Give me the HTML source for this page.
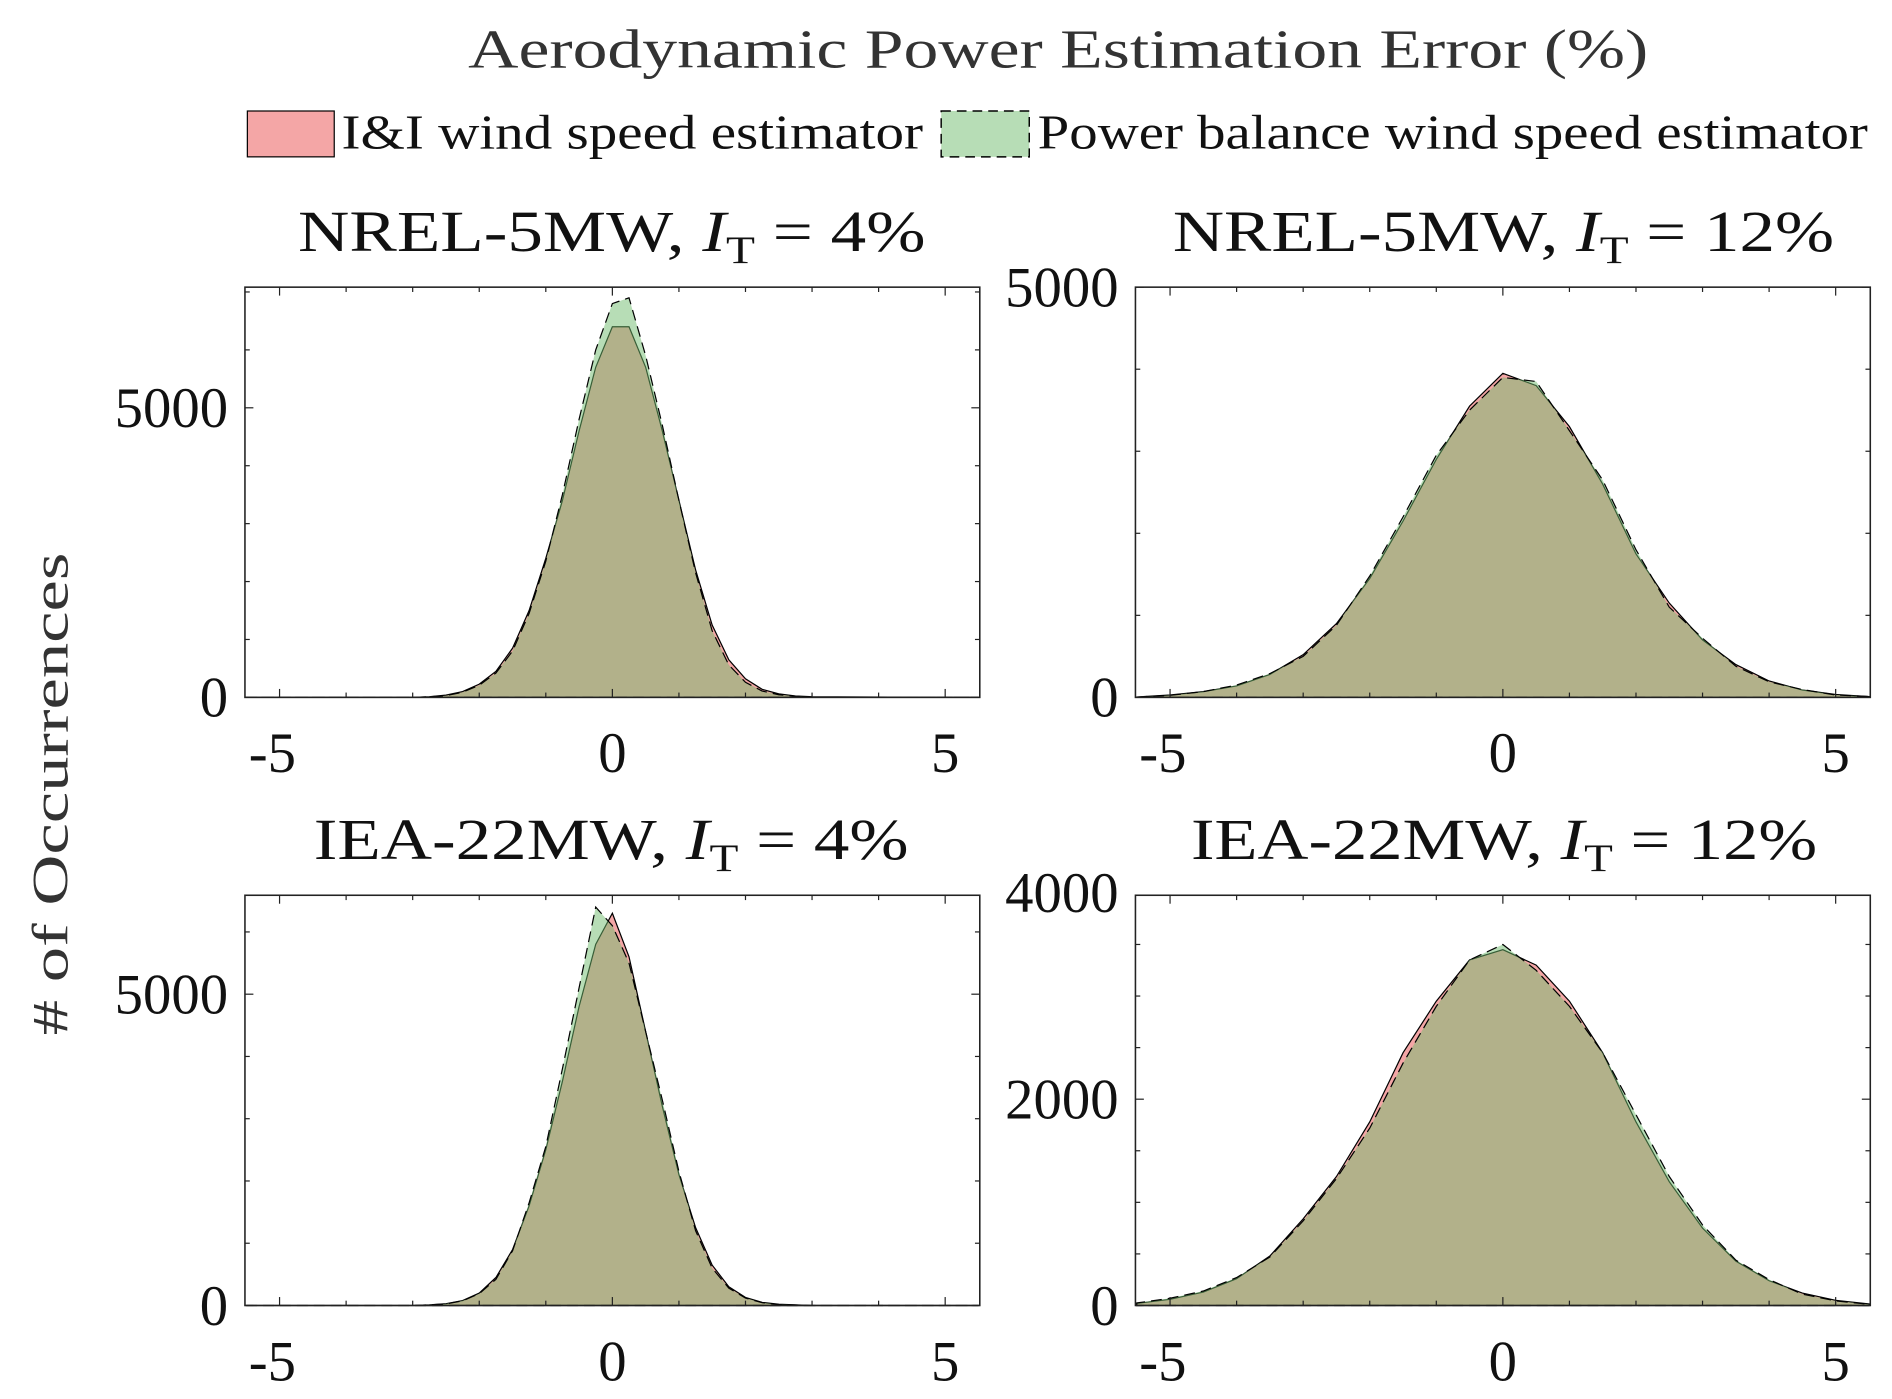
<!DOCTYPE html>
<html><head><meta charset="utf-8"><style>
html,body{margin:0;padding:0;background:#fff}
svg{display:block}
text{font-family:"Liberation Serif",serif}
</style></head><body>
<svg id="chart" width="1892" height="1399" viewBox="0 0 1568 1159.5" preserveAspectRatio="none">
<text x="388" y="56" font-size="46" fill="#333" textLength="978" lengthAdjust="spacingAndGlyphs">Aerodynamic Power Estimation Error (%)</text>
<g>
<rect x="205" y="92" width="72" height="38" fill="#f4a6a6" stroke="#000" stroke-width="1"/>
<text x="283" y="123" font-size="40" fill="#111" textLength="482" lengthAdjust="spacingAndGlyphs">I&amp;I wind speed estimator</text>
<rect x="780" y="92" width="73" height="38" fill="#b7ddb6" stroke="#000" stroke-width="1.2" stroke-dasharray="8,5"/>
<text x="860" y="123" font-size="40" fill="#111" textLength="688" lengthAdjust="spacingAndGlyphs">Power balance wind speed estimator</text>
</g>
<text transform="translate(56,658) rotate(-90)" font-size="42" fill="#333" text-anchor="middle" textLength="400" lengthAdjust="spacingAndGlyphs"># of Occurrences</text>
<g id="panels"></g>
</svg>
<script>
const binsNarrow=[-5.5,-3,-2.75,-2.5,-2.25,-2,-1.75,-1.5,-1.25,-1,-0.75,-0.5,-0.25,0,0.25,0.5,0.75,1,1.25,1.5,1.75,2,2.25,2.5,2.75,3,5.5];
const binsWide=[-5.5,-5,-4.5,-4,-3.5,-3,-2.5,-2,-1.5,-1,-0.5,0,0.5,1,1.5,2,2.5,3,3.5,4,4.5,5,5.5];
const tlRed=[0,0,10,40,100,230,450,850,1500,2400,3400,4600,5700,6400,6400,5700,4600,3400,2200,1250,650,320,140,60,25,10,0];
const tlGreen=[0,0,10,30,90,210,420,800,1450,2350,3500,4800,6000,6800,6900,5900,4700,3400,2150,1150,560,260,110,45,20,5,0];
const trRed=[5,30,70,140,280,520,900,1450,2150,2900,3550,3950,3800,3300,2600,1750,1150,700,400,200,90,35,10];
const trGreen=[5,25,70,150,290,500,880,1480,2200,2950,3500,3900,3850,3250,2650,1800,1100,720,380,190,95,30,10];
const blRed=[0,0,10,30,80,200,450,900,1600,2500,3600,4800,5800,6300,5600,4400,3200,2100,1250,650,300,130,50,20,10,0,0];
const blGreen=[0,0,10,25,75,190,420,880,1650,2550,3800,5100,6400,6100,5500,4400,3300,2150,1200,600,280,120,45,15,8,0,0];
const brRed=[20,60,130,260,480,840,1250,1780,2450,2950,3350,3450,3300,2950,2450,1780,1200,750,430,240,120,50,15];
const brGreen=[25,70,140,270,470,820,1230,1720,2350,2900,3350,3500,3250,2900,2450,1850,1250,780,440,250,110,45,12];
const yTicksTL=[0,5000], yTicksTR=[0,5000], yTicksBL=[0,5000], yTicksBR=[0,2000,4000];
const xTicks=[-5,0,5];
const titles=["NREL-5MW","NREL-5MW","IEA-22MW","IEA-22MW"];
const itVals=["4%","12%","4%","12%"];
const NS="http://www.w3.org/2000/svg";
const root=document.getElementById('panels');
function mk(tag,attrs,parent){const e=document.createElementNS(NS,tag);for(const k in attrs)e.setAttribute(k,attrs[k]);(parent||root).appendChild(e);return e;}
const panels=[
 {x0:203,x1:812,y0:238,y1:578,ymax:7083,bins:binsNarrow,red:tlRed,green:tlGreen,yt:yTicksTL,minor:1000,name:'nrel-4',tx:247,tw:520},
 {x0:941,x1:1550,y0:238,y1:578,ymax:5000,bins:binsWide,red:trRed,green:trGreen,yt:yTicksTR,minor:1000,name:'nrel-12',tx:972,tw:548},
 {x0:203,x1:812,y0:742,y1:1082,ymax:6589,bins:binsNarrow,red:blRed,green:blGreen,yt:yTicksBL,minor:1000,name:'iea-4',tx:260,tw:493},
 {x0:941,x1:1550,y0:742,y1:1082,ymax:3977,bins:binsWide,red:brRed,green:brGreen,yt:yTicksBR,minor:500,name:'iea-12',tx:987,tw:519}];
panels.forEach((p,i)=>{
 const g=mk('g',{});
 
 
 const sx=v=>p.x0+(v+5.52)/11.04*(p.x1-p.x0);
 const sy=v=>p.y1-v/p.ymax*(p.y1-p.y0);
 function area(vals,fill,op,dash,nm){
  let d='M'+sx(p.bins[0])+','+sy(0);
  vals.forEach((v,j)=>{d+=' L'+sx(p.bins[j]).toFixed(1)+','+sy(v).toFixed(1);});
  d+=' L'+sx(p.bins[p.bins.length-1])+','+sy(0)+' Z';
  const a=mk('path',{d:d,fill:fill,'fill-opacity':op,stroke:'#000','stroke-width':1,'stroke-dasharray':dash},g);
  
  
 }
 area(p.red,'#f4a6a6',1,'none','area-ii');
 area(p.green,'#70bc6e',0.5,'9,5','area-power-balance');
 const box=mk('rect',{x:p.x0,y:p.y0,width:p.x1-p.x0,height:p.y1-p.y0,fill:'none',stroke:'#222','stroke-width':1.3},g);
 
 
 for(let v=0;v<=p.ymax;v+=p.minor){const y=sy(v);const L=p.yt.includes(v)?7:4;
  mk('line',{x1:p.x0,x2:p.x0+L,y1:y,y2:y,stroke:'#222','stroke-width':1},g);
  mk('line',{x1:p.x1,x2:p.x1-L,y1:y,y2:y,stroke:'#222','stroke-width':1},g);}
 for(let v=-5;v<=5;v++){const x=sx(v);const L=xTicks.includes(v)?7:4;
  mk('line',{x1:x,x2:x,y1:p.y1,y2:p.y1-L,stroke:'#222','stroke-width':1},g);
  mk('line',{x1:x,x2:x,y1:p.y0,y2:p.y0+L,stroke:'#222','stroke-width':1},g);}
 p.yt.forEach(v=>{const t=mk('text',{x:p.x0-14,y:sy(v)+16,'font-size':47,'text-anchor':'end',fill:'#111'},g);t.textContent=v;
  
  });
 xTicks.forEach(v=>{const t=mk('text',{x:sx(v)+(v<0?-6:0),y:p.y1+62,'font-size':47,'text-anchor':'middle',fill:'#111'},g);t.textContent=(v<0?'-'+(-v):v);
  
  });
 const tt=mk('text',{x:p.tx,y:p.y0-30,'font-size':48,fill:'#111',textLength:p.tw,lengthAdjust:'spacingAndGlyphs'},g);
 
 
 tt.innerHTML=titles[i]+', <tspan font-style="italic">I</tspan><tspan font-size="32" dy="10">T</tspan><tspan dy="-10"> = '+itVals[i]+'</tspan>';
});
</script>
</body></html>
